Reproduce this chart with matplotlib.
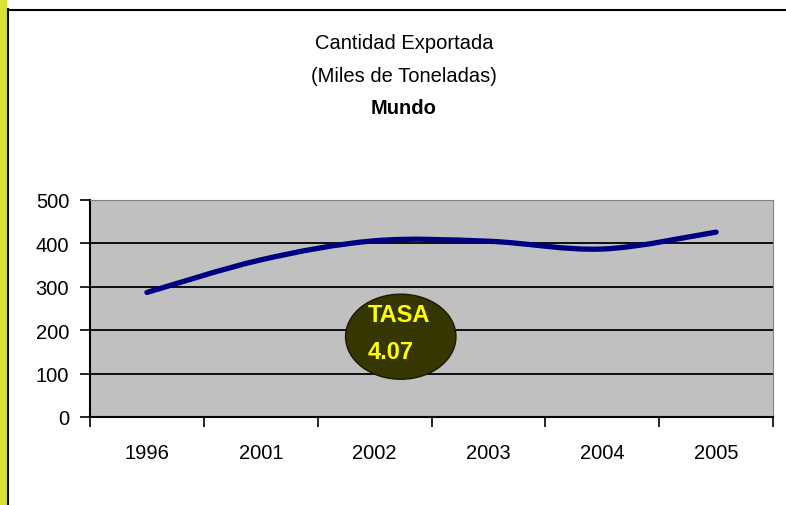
import matplotlib.pyplot as plt
from matplotlib.patches import Ellipse, Rectangle, PathPatch
from matplotlib.path import Path

plt.rcParams['font.family'] = ['Liberation Sans', 'DejaVu Sans']

anios = ['1996', '2001', '2002', '2003', '2004', '2005']
cantidad = [287, 362, 406, 405, 387, 426]
tasa = '4.07'

fig = plt.figure(figsize=(7.86, 5.06), dpi=100)
W, H = 786, 506

# yellow strip and black frame
fig.patches.append(Rectangle((0, 0), 7 / W, 1, transform=fig.transFigure,
                             facecolor='#d6e234', edgecolor='none'))
fig.add_artist(plt.Line2D([7.5 / W, 7.5 / W], [0, 1 - 10 / H], color='black', lw=1.5))
fig.add_artist(plt.Line2D([7.5 / W, 1], [1 - 10.5 / H, 1 - 10.5 / H], color='black', lw=1.5))

ax = fig.add_axes([90 / W, 1 - 418 / H, 683 / W, 217 / H])
ax.set_facecolor('#c0c0c0')
ax.set_xlim(-0.5, len(anios) - 0.5)
ax.set_ylim(0, 500)

for v in range(100, 500, 100):
    ax.axhline(v, color='black', lw=1.3, zorder=1)

# smoothed line (excel style bezier through the points)
x = list(range(len(anios)))
verts = [(x[0], cantidad[0])]
codes = [Path.MOVETO]
t = 1 / 6
for i in range(len(x) - 1):
    p0 = (x[max(i - 1, 0)], cantidad[max(i - 1, 0)])
    p1 = (x[i], cantidad[i])
    p2 = (x[i + 1], cantidad[i + 1])
    p3 = (x[min(i + 2, len(x) - 1)], cantidad[min(i + 2, len(x) - 1)])
    c1 = (p1[0] + (p2[0] - p0[0]) * t, p1[1] + (p2[1] - p0[1]) * t)
    c2 = (p2[0] - (p3[0] - p1[0]) * t, p2[1] - (p3[1] - p1[1]) * t)
    verts += [c1, c2, p2]
    codes += [Path.CURVE4] * 3
ax.add_patch(PathPatch(Path(verts, codes), facecolor='none', edgecolor='#000080',
                       lw=3.8, capstyle='round', zorder=3))

ax.add_patch(Ellipse((2.23, 185), 0.97, 196, facecolor='#363600',
                     edgecolor='#1a1a00', lw=1, zorder=4))
ax.text(1.94, 237, 'TASA', color='#ffff00', fontsize=17, fontweight='bold',
        va='center', ha='left', zorder=5)
ax.text(1.94, 152, tasa, color='#ffff00', fontsize=17, fontweight='bold',
        va='center', ha='left', zorder=5)

ax.set_yticks(range(0, 501, 100))
ax.set_xticks([i - 0.5 for i in range(len(anios) + 1)])
ax.set_xticklabels([])
ax.set_xticks(x, minor=True)
ax.set_xticklabels(anios, minor=True)
ax.tick_params(axis='x', which='minor', length=0, pad=19, labelsize=14.5)
ax.tick_params(axis='x', which='major', length=7, width=1.2, direction='out')
ax.tick_params(axis='y', length=7, width=1.2, direction='out', labelsize=14.5, pad=8)

ax.spines['left'].set_linewidth(1.5)
ax.spines['bottom'].set_linewidth(1.5)
ax.spines['top'].set_color('#808080')
ax.spines['right'].set_color('#808080')

fig.text(404 / W, 1 - 44 / H, 'Cantidad Exportada', ha='center', va='center', fontsize=14.5)
fig.text(404 / W, 1 - 76 / H, '(Miles de Toneladas)', ha='center', va='center', fontsize=14.5)
fig.text(404 / W, 1 - 108 / H, 'Mundo', ha='center', va='center', fontsize=14.5,
         fontweight='bold')

fig.savefig('out.png', dpi=100)
